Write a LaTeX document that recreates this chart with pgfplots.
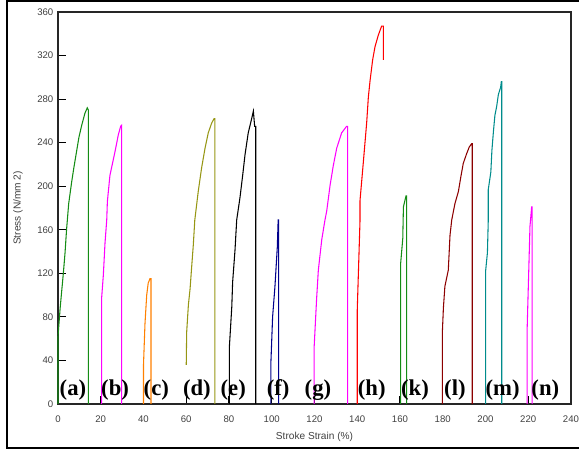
\documentclass[border=0pt]{standalone}
\usepackage{fontspec}
\setmainfont{Liberation Sans}
\newfontfamily\timesfont{Liberation Serif}
\usepackage{pgfplots}
\pgfplotsset{compat=1.18}

\definecolor{cgreen}{RGB}{20,140,20}
\definecolor{cmag}{RGB}{255,0,255}
\definecolor{corange}{RGB}{255,128,0}
\definecolor{colive}{RGB}{150,150,20}
\definecolor{cnavy}{RGB}{0,0,140}
\definecolor{cred}{RGB}{255,0,0}
\definecolor{cdred}{RGB}{140,0,0}
\definecolor{cteal}{RGB}{0,140,140}

\begin{document}
\begin{tikzpicture}
\useasboundingbox (-43.5pt,-36pt) rectangle (390.75pt,303pt);
\draw[line width=1.6pt] (390.75pt,302.2pt) -- (-38.25pt,302.2pt) -- (-38.25pt,-33pt) -- (390.75pt,-33pt);
\begin{axis}[
    at={(0,0)}, anchor=south west,
    scale only axis,
    width=384.75pt, height=294pt,
    xmin=0, xmax=240, ymin=0, ymax=360,
    xtick={0,20,...,240}, ytick={0,40,...,360},
    tick align=inside, xtick pos=bottom, ytick pos=left,
    major tick length=6pt,
    axis line style={line width=0.8pt, black!85},
    tick style={line width=0.8pt, black},
    ticklabel style={font=\fontsize{7.2}{9}\selectfont, text=black!75},
    /pgf/number format/assume math mode=true,
    xticklabel style={yshift=-5pt},
    xlabel={Stroke Strain (\%)},
    ylabel={Stress (N/mm 2)},
    every axis x label/.style={at={(axis description cs:0.5,0)}, yshift=-24.75pt, anchor=center, font=\fontsize{7.6}{9}\selectfont, text=black!75},
    every axis y label/.style={at={(axis description cs:0,0.5)}, xshift=-30pt, rotate=90, anchor=center, font=\fontsize{7.6}{9}\selectfont, text=black!75},
    every axis plot/.append style={line width=0.8pt, no marks},
    clip=false,
]
% (a)
\addplot[cgreen] coordinates {(0,0) (0,62) (1,88) (1.7,103) (2.5,120) (3.3,139) (4,160) (5,184) (6.4,204) (7.5,218) (8.7,232) (9.8,245) (11.1,256) (12.6,267) (13.7,272) (14.2,270) (14.2,0)};
% (b)
\addplot[cmag] coordinates {(20.4,0) (20.4,97) (21.2,118) (22,148) (22.8,169) (23.1,186) (24.3,210) (26.7,232) (28.2,247) (29.3,255) (29.8,256) (29.8,0)};
% (c)
\addplot[corange] coordinates {(40,0) (40,36) (40.7,74) (41.5,100) (42.2,111) (43,115) (43.5,115) (43.5,0)};
% (d)
\addplot[colive] coordinates {(60,36) (60.2,66) (61,91) (61.8,106) (62.5,125) (63.3,146) (64,169) (65.6,195) (67.2,217) (68.8,235) (70.3,249) (71.9,258) (73,262) (73.4,262) (73.4,0)};
% (e)
\addplot[black] coordinates {(80.2,0) (80.2,53) (81.3,89) (81.7,112) (82.8,141) (83.6,169) (85.1,189) (86.4,210) (87.5,229) (89,249) (90.6,262) (91.4,269) (92,255) (92.5,255) (92.5,0)};
% (f)
\addplot[cnavy] coordinates {(99.6,0) (99.6,38) (100.4,80) (101.5,108) (102.6,144) (103,169) (103.2,169) (103.2,0)};
% (g)
\addplot[cmag] coordinates {(119.8,0) (119.8,51) (121,97) (121.8,123) (123.4,151) (124.9,169) (125.7,177) (127.3,201) (128.8,219) (130.4,235) (132.7,249) (135,255) (135.5,255) (135.5,0)};
% (h)
\addplot[cred] coordinates {(140,0) (140,86) (141.3,169) (141.3,187) (142.8,221) (144.4,258) (145.2,282) (146,297) (147.2,316) (148.3,328) (149.9,339) (151.4,347) (152.2,347) (152.2,316)};
% (k)
\addplot[cgreen] coordinates {(160.3,0) (160.3,129) (161.3,152) (161.6,181) (162.8,191) (163.1,191) (163.1,0)};
% (l)
\addplot[cdred] coordinates {(179.8,0) (179.8,65) (180.3,88) (181,108) (182.6,123) (183.4,155) (184.2,169) (185.7,184) (187.3,195) (188.5,209) (189.6,221) (191.2,230) (192.4,236) (193.5,239) (193.8,239) (193.8,0)};
% (m)
\addplot[cteal] coordinates {(200.1,0) (200.1,123) (200.9,139) (201.3,169) (201.3,197) (202.5,213) (203,233) (203.7,250) (204.4,265) (205.2,273) (206,284) (207.1,291) (207.4,296) (207.6,296) (207.6,0)};
% (n)
\addplot[cmag] coordinates {(219.5,0) (219.5,70) (220.4,134) (220.8,163) (221.6,181) (221.8,181) (221.8,0)};

\pgfplotsforeachungrouped \px/\lab in {7/a,26.7/b,46/c,65/d,82/e,103/f,121.6/g,146.8/h,167/k,185.7/l,208/m,228/n}{
  \edef\tmp{\noexpand\node[anchor=base, font=\noexpand\timesfont\noexpand\fontsize{17}{19}\noexpand\selectfont\noexpand\bfseries, inner sep=0pt] at (axis cs:\px,8) {(\lab)};}
  \tmp
}
\end{axis}
\end{tikzpicture}
\end{document}
